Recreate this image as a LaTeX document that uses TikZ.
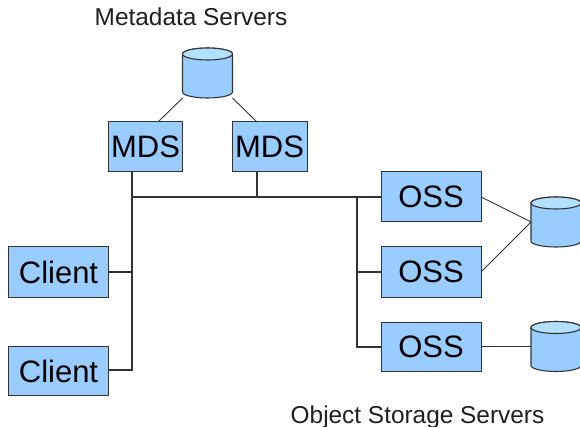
\documentclass[tikz,border=0pt]{standalone}
\usepackage{fontspec}
\setmainfont{Liberation Sans}
\definecolor{boxfill}{HTML}{99CCFF}
\definecolor{capfill}{HTML}{B3E0FF}
\definecolor{edge}{HTML}{333333}
\tikzset{
  x=1pt,y=-1pt,
  box/.style={draw=edge,fill=boxfill,line width=1pt,inner sep=0pt,outer sep=0pt,font=\fontsize{31}{34}\selectfont,text=black},
  db/.style={inner sep=0pt,outer sep=0pt,minimum width=50pt,minimum height=50pt},
  dbline/.style={draw=edge,line width=1.1pt},
  link/.style={draw=edge,line width=1.15pt},
  thinlink/.style={draw=edge,line width=0.9pt},
  title/.style={anchor=base,inner sep=0pt,font=\fontsize{24.4}{28}\selectfont,text=black!88}
}
\newcommand{\drumshape}[1]{%
  \path[fill=boxfill,dbline] (#1.north west) ++(0,6) -- ++(0,38)
     arc[start angle=180,end angle=360,x radius=25pt,y radius=6pt] -- ++(0,-38)
     arc[start angle=0,end angle=180,x radius=25pt,y radius=6pt] -- cycle;
  \path[fill=capfill,dbline] (#1.north) ++(0,6)
     ellipse[x radius=25pt,y radius=6pt];
}
\begin{document}
\begin{tikzpicture}
\useasboundingbox (0,0) rectangle (580,427);
\node[title] (t1) at (191,26) {Metadata Servers};
\node[title] (t2) at (417.5,423) {Object Storage Servers};

\node[box,minimum width=74pt,minimum height=50pt] (m1) at (145.5,147) {MDS};
\node[box,minimum width=75pt,minimum height=50pt] (m2) at (269.5,147) {MDS};
\node[box,minimum width=100pt,minimum height=50pt] (o1) at (431,197) {OSS};
\node[box,minimum width=100pt,minimum height=50pt] (o2) at (431,272) {OSS};
\node[box,minimum width=100pt,minimum height=49pt] (o3) at (431,346.5) {OSS};
\node[box,minimum width=100pt,minimum height=50pt] (c1) at (58.5,272) {Client};
\node[box,minimum width=100pt,minimum height=49pt] (c2) at (58.5,371) {Client};

\node[db] (d0) at (207.5,73) {};
\node[db] (d1) at (556,222) {};
\node[db] (d2) at (556,346.5) {};
\drumshape{d0}
\drumshape{d1}
\drumshape{d2}

\coordinate (j1) at (132,197);
\coordinate (j2) at (257,197);
\coordinate (j3) at (357,197);
\coordinate (j4) at (132,272);
\coordinate (j5) at (132,370);
\coordinate (j6) at (357,272);
\coordinate (j7) at (357,347);
\coordinate (m1b) at (132,172);
\coordinate (m1t) at (158,122);
\coordinate (m2t) at (257,122);

\draw[thinlink] (d0.south west) -- (m1t);
\draw[thinlink] (d0.south east) -- (m2t);
\draw[link] (m1b) -- (j1) -- (j5) -- (c2.east |- j5);
\draw[link] (j1) -- (o1.west |- j1);
\draw[link] (m2.south -| j2) -- (j2);
\draw[link] (j4) -- (c1.east);
\draw[link] (j3) -- (j7) -- (o3.west |- j7);
\draw[link] (j6) -- (o2.west);
\draw[thinlink] (o1.east) -- (d1.west);
\draw[thinlink] (o2.east) -- (d1.west);
\draw[link] (o3.east) -- (d2.west);
\end{tikzpicture}
\end{document}
